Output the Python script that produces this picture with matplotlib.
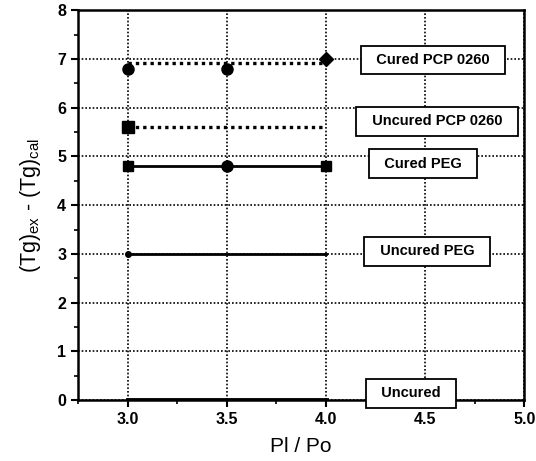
import numpy as np
import matplotlib
matplotlib.use("Agg")
import matplotlib.pyplot as plt

plt.rcParams['font.family'] = ['Liberation Sans', 'DejaVu Sans']
plt.rcParams['mathtext.default'] = 'regular'

# Pl/Po ratios and (Tg)ex - (Tg)cal for each sample
pl_po = [3.0, 3.5, 4.0]
cured_pcp = [6.8, 6.8, 7.0]
uncured_pcp = [5.6]
cured_peg = [4.8, 4.8, 4.8]
uncured_peg = [3.0]
uncured = [0.0]

labels = ["Cured PCP 0260", "Uncured PCP 0260", "Cured PEG", "Uncured PEG", "Uncured"]
label_x = [4.54, 4.56, 4.49, 4.51, 4.43]
label_y = [6.98, 5.72, 4.85, 3.05, 0.14]

fig = plt.figure(figsize=(5.36, 4.61), dpi=100)
ax = fig.add_axes([0.1455, 0.132, 0.8325, 0.846])

span = [pl_po[0], pl_po[-1]]
dots = (0, (1, 1.2))

# cured PCP: points plus dotted level
ax.plot(pl_po[:2], cured_pcp[:2], 'o', color='black', ms=8)
ax.plot(pl_po[2], cured_pcp[2], 'D', color='black', ms=7)
ax.plot(span, [np.mean(cured_pcp) + 0.05] * 2, linestyle=dots, color='black', lw=2.4)

# uncured PCP
ax.plot(pl_po[0], uncured_pcp[0], 's', color='black', ms=8)
ax.plot(span, [uncured_pcp[0]] * 2, linestyle=dots, color='black', lw=2.4)

# cured PEG
ax.plot(span, [np.mean(cured_peg)] * 2, '-', color='black', lw=2)
ax.plot([pl_po[0], pl_po[2]], [cured_peg[0], cured_peg[2]], 's', color='black', ms=7.5)
ax.plot(pl_po[1], cured_peg[1], 'o', color='black', ms=8)

# uncured PEG
ax.plot(span, [uncured_peg[0]] * 2, '-', color='black', lw=2)
ax.plot(pl_po[0], uncured_peg[0], 'o', color='black', ms=4)

# uncured
ax.plot(span, [uncured[0]] * 2, '-', color='black', lw=3.5)

for txt, x, y in zip(labels, label_x, label_y):
    ax.text(x, y, '  ' + txt + '  ', ha='center', va='center', fontsize=10.5, fontweight='bold',
            bbox=dict(boxstyle='square,pad=0.5', fc='white', ec='black', lw=1.3), zorder=5)

ax.set_xlim(2.75, 5.0)
ax.set_ylim(0, 8)
ax.set_xticks([3.0, 3.5, 4.0, 4.5, 5.0])
ax.set_xticklabels(['3.0', '3.5', '4.0', '4.5', '5.0'])
ax.set_yticks(range(0, 9))
ax.set_xticks(np.arange(2.75, 5.01, 0.25), minor=True)
ax.set_yticks(np.arange(0.5, 8, 1.0), minor=True)
ax.tick_params(which='major', direction='out', length=5, width=1.5, labelsize=11.5)
ax.tick_params(which='minor', direction='out', length=3, width=1.2)
for lab in ax.get_xticklabels() + ax.get_yticklabels():
    lab.set_fontweight('bold')
ax.grid(True, which='major', linestyle=dots, color='black', lw=1.2)
for sp in ax.spines.values():
    sp.set_linewidth(1.8)

ax.set_xlabel('Pl / Po', fontsize=15, labelpad=7)
ax.set_ylabel(r'(Tg)$_{ex}$ - (Tg)$_{cal}$', fontsize=15.5, labelpad=10)

fig.savefig('out.png', dpi=100)
